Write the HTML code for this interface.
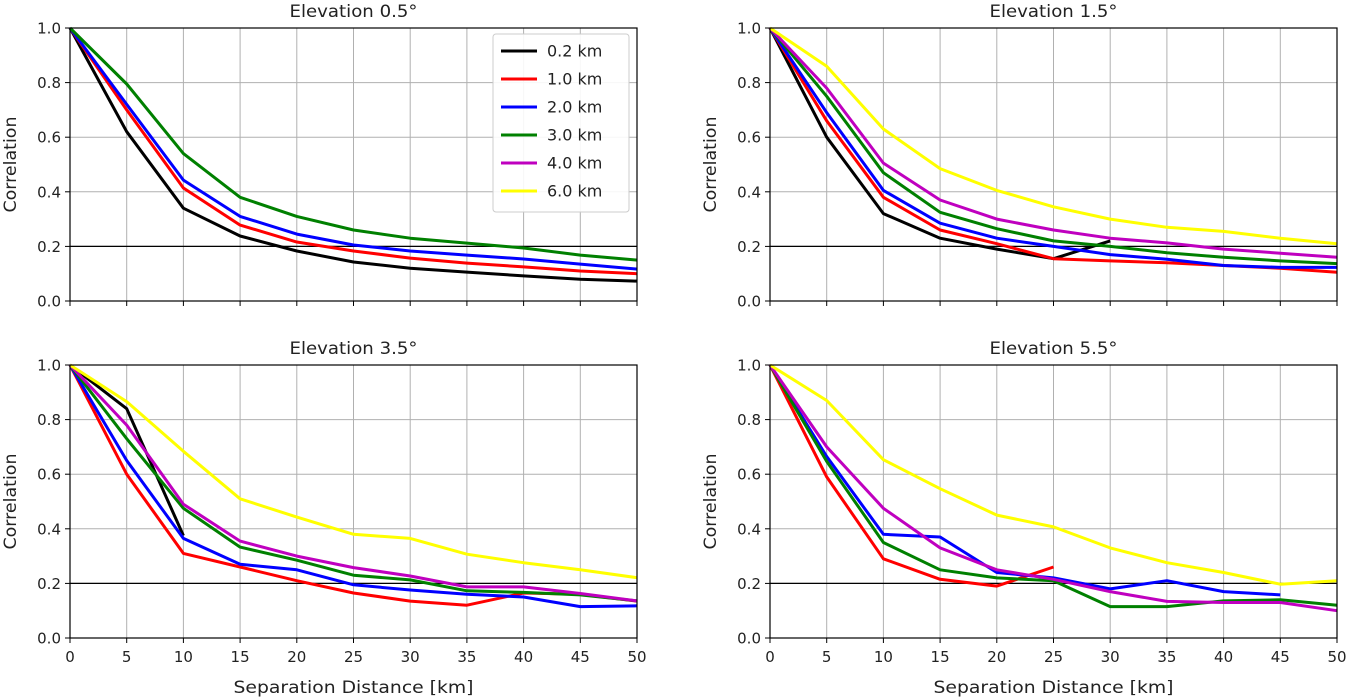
<!DOCTYPE html>
<html><head><meta charset="utf-8"><style>
html,body{margin:0;padding:0;background:#fff;}
svg{display:block;font-family:"DejaVu Sans","Liberation Sans",sans-serif;}
</style></head><body>
<svg id="fig" width="1348" height="697" viewBox="0 0 1348 697"></svg>
<script>
const xCats = [0,5,10,15,20,25,30,35,40,45,50];
const xTicks = [0,5,10,15,20,25,30,35,40,45,50];
const yTicks = [0.0,0.2,0.4,0.6,0.8,1.0];
const seriesNames = ["0.2 km","1.0 km","2.0 km","3.0 km","4.0 km","6.0 km"];
const seriesColors = ["#000000","#ff0000","#0000ff","#008000","#bf00bf","#ffff00"];
const panelTitles = ["Elevation 0.5°","Elevation 1.5°","Elevation 3.5°","Elevation 5.5°"];

// Panel 0.5
const p1_k = [1,0.62,0.34,0.238,0.183,0.143,0.12,0.106,0.092,0.08,0.073];
const p1_r = [1,0.70,0.414,0.278,0.216,0.183,0.157,0.139,0.125,0.11,0.10];
const p1_b = [1,0.72,0.443,0.31,0.245,0.205,0.183,0.168,0.154,0.135,0.117];
const p1_g = [1,0.795,0.54,0.38,0.31,0.26,0.23,0.212,0.194,0.168,0.15];
const p1_m = [];
const p1_y = [];
// Panel 1.5
const p2_k = [1,0.60,0.32,0.23,0.19,0.155,0.22];
const p2_r = [1,0.66,0.38,0.26,0.21,0.155,0.147,0.14,0.13,0.12,0.105];
const p2_b = [1,0.69,0.405,0.285,0.23,0.20,0.17,0.153,0.13,0.123,0.123];
const p2_g = [1,0.75,0.47,0.325,0.265,0.22,0.20,0.177,0.16,0.147,0.137];
const p2_m = [1,0.78,0.505,0.37,0.30,0.26,0.23,0.213,0.19,0.175,0.16];
const p2_y = [1,0.86,0.63,0.485,0.405,0.345,0.30,0.27,0.255,0.23,0.21];
// Panel 3.5
const p3_k = [1,0.84,0.375];
const p3_r = [1,0.60,0.31,0.26,0.21,0.165,0.135,0.12,0.165,0.16,0.135];
const p3_b = [1,0.65,0.365,0.27,0.25,0.195,0.176,0.16,0.15,0.115,0.118];
const p3_g = [1,0.73,0.475,0.333,0.285,0.23,0.213,0.173,0.167,0.158,0.136];
const p3_m = [1,0.78,0.49,0.355,0.30,0.258,0.227,0.187,0.187,0.163,0.136];
const p3_y = [1,0.866,0.684,0.51,0.443,0.38,0.365,0.307,0.276,0.25,0.221];
// Panel 5.5
const p4_k = [];
const p4_r = [1,0.59,0.29,0.215,0.19,0.26];
const p4_b = [1,0.665,0.38,0.37,0.24,0.22,0.18,0.21,0.17,0.158];
const p4_g = [1,0.647,0.35,0.25,0.22,0.21,0.115,0.115,0.136,0.14,0.12];
const p4_m = [1,0.70,0.475,0.33,0.25,0.215,0.17,0.134,0.13,0.13,0.10];
const p4_y = [1,0.87,0.653,0.547,0.45,0.407,0.33,0.276,0.24,0.197,0.21];

const panelsData = [
  [p1_k,p1_r,p1_b,p1_g,p1_m,p1_y],
  [p2_k,p2_r,p2_b,p2_g,p2_m,p2_y],
  [p3_k,p3_r,p3_b,p3_g,p3_m,p3_y],
  [p4_k,p4_r,p4_b,p4_g,p4_m,p4_y]
];

const NS="http://www.w3.org/2000/svg";
const svg=document.getElementById('fig');
function mk(tag,attrs,parent){const e=document.createElementNS(NS,tag);for(const k in attrs)e.setAttribute(k,attrs[k]);(parent||svg).appendChild(e);return e;}

const boxes=[{x:70,y:28,w:567,h:273},{x:770,y:28,w:567,h:273},{x:70,y:365,w:567,h:273},{x:770,y:365,w:567,h:273}];
boxes.forEach((b,pi)=>{
  const g=mk('g',{});
  
  
  const sx=v=>b.x+v/50*b.w;
  const sy=v=>b.y+b.h-v*b.h;
  xTicks.forEach(t=>{
    const l=mk('line',{x1:sx(t),x2:sx(t),y1:b.y,y2:b.y+b.h,stroke:'#b0b0b0','stroke-width':1},g);
    
    
    const tk=mk('line',{x1:sx(t),x2:sx(t),y1:b.y+b.h,y2:b.y+b.h+5,stroke:'#000','stroke-width':1},g);
    
    
    if(pi>=2){
      const tx=mk('text',{x:sx(t),y:b.y+b.h+24,'font-size':15,'text-anchor':'middle',fill:'#222'},g);
      tx.textContent=t;
      
      
    }
  });
  yTicks.forEach(t=>{
    const l=mk('line',{x1:b.x,x2:b.x+b.w,y1:sy(t),y2:sy(t),stroke:'#b0b0b0','stroke-width':1},g);
    
    
    const tk=mk('line',{x1:b.x-5,x2:b.x,y1:sy(t),y2:sy(t),stroke:'#000','stroke-width':1},g);
    
    
    const tx=mk('text',{x:b.x-9,y:sy(t)+5.5,'font-size':15,'text-anchor':'end',fill:'#222'},g);
    tx.textContent=t.toFixed(1);
    
    
  });
  const ref=mk('line',{x1:b.x,x2:b.x+b.w,y1:sy(0.2),y2:sy(0.2),stroke:'#000','stroke-width':1.3},g);
  
  
  panelsData[pi].forEach((vals,si)=>{
    if(!vals.length)return;
    const pts=vals.map((v,i)=>sx(xCats[i]).toFixed(1)+','+sy(v).toFixed(1)).join(' ');
    const pl=mk('polyline',{points:pts,fill:'none',stroke:seriesColors[si],'stroke-width':3,'stroke-linejoin':'round'},g);
    
    
  });
  const fr=mk('rect',{x:b.x,y:b.y,width:b.w,height:b.h,fill:'none',stroke:'#000','stroke-width':1.2},g);
  
  
  const tt=mk('text',{x:b.x+b.w/2,y:b.y-11,'font-size':17,'text-anchor':'middle',fill:'#222',textLength:128,lengthAdjust:'spacingAndGlyphs'},g);
  tt.textContent=panelTitles[pi];
  
  
  const yl=mk('text',{x:0,y:0,'font-size':17,'text-anchor':'middle',fill:'#222',textLength:96,lengthAdjust:'spacingAndGlyphs',transform:'translate('+(b.x-54)+','+(b.y+b.h/2)+') rotate(-90)'},g);
  yl.textContent='Correlation';
  
  
  if(pi>=2){
    const xl=mk('text',{x:b.x+b.w/2,y:693,'font-size':17,'text-anchor':'middle',fill:'#222',textLength:240,lengthAdjust:'spacingAndGlyphs'},g);
    xl.textContent='Separation Distance [km]';
    
    
  }
});
const lg=mk('g',{});


const lr=mk('rect',{x:493,y:34,width:136,height:178,rx:3,fill:'#fff','fill-opacity':0.9,stroke:'#ccc','stroke-width':1},lg);


seriesNames.forEach((n,i)=>{
  const y=51+i*28;
  const l=mk('line',{x1:501,x2:537,y1:y,y2:y,stroke:seriesColors[i],'stroke-width':3},lg);
  
  
  const t=mk('text',{x:547,y:y+5.5,'font-size':16,fill:'#222'},lg);
  t.textContent=n;
  
  
});
</script>
</body></html>
